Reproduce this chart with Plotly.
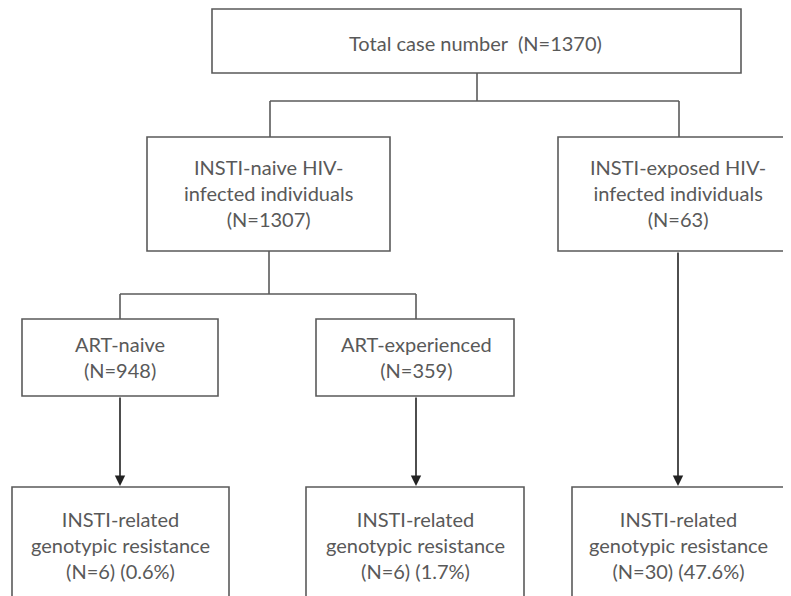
import plotly.graph_objects as go

# ---- data: node labels ----
node_ids = ["total", "naive", "exposed", "artnaive", "artexp", "res1", "res2", "res3"]
node_labels = [
    "Total case number  (N=1370)",
    "INSTI-naive HIV-<br>infected individuals<br>(N=1307)",
    "INSTI-exposed HIV-<br>infected individuals<br>(N=63)",
    "ART-naive<br>(N=948)",
    "ART-experienced<br>(N=359)",
    "INSTI-related<br>genotypic resistance<br>(N=6) (0.6%)",
    "INSTI-related<br>genotypic resistance<br>(N=6) (1.7%)",
    "INSTI-related<br>genotypic resistance<br>(N=30) (47.6%)",
]

# ---- layout geometry (pixels, y downward) ----
boxes = {
    "total":    (212, 9, 741, 73),
    "naive":    (147, 137, 390, 251),
    "exposed":  (558, 137, 800, 251),
    "artnaive": (22, 319, 218, 396),
    "artexp":   (316, 319, 514, 396),
    "res1":     (12, 487, 229, 610),
    "res2":     (306, 487, 524, 610),
    "res3":     (572, 487, 788, 610),
}
text_centers = {
    "total": (475, 43),
    "naive": (268, 193),
    "exposed": (678, 193),
    "artnaive": (120, 357),
    "artexp": (416, 357),
    "res1": (120, 545),
    "res2": (415, 545),
    "res3": (678, 545),
}
connectors = [
    [(477, 73), (477, 101)],
    [(270, 101), (679, 101)],
    [(270, 101), (270, 137)],
    [(679, 101), (679, 137)],
    [(269, 251), (269, 294)],
    [(120, 294), (416, 294)],
    [(120, 294), (120, 319)],
    [(416, 294), (416, 319)],
]
arrows = [
    ((120, 396), (120, 487)),
    ((416, 396), (416, 487)),
    ((678, 251), (678, 487)),
]

line_color = "#5a5a5a"
text_color = "#595959"
OFF = 8  # page body margin

fig = go.Figure()
fig.add_trace(go.Scatter(x=[OFF, 791], y=[OFF, 596], mode="markers",
                         marker=dict(opacity=0), hoverinfo="skip", showlegend=False))

shapes = []
for nid in node_ids:
    x0, y0, x1, y1 = boxes[nid]
    shapes.append(dict(type="rect", xref="x", yref="y", x0=x0, y0=y0, x1=x1, y1=y1,
                       line=dict(color=line_color, width=1.6), fillcolor="white", layer="below"))
for seg in connectors:
    (xa, ya), (xb, yb) = seg
    shapes.append(dict(type="line", xref="x", yref="y", x0=xa, y0=ya, x1=xb, y1=yb,
                       line=dict(color=line_color, width=1.6)))

annotations = []
for nid, lab in zip(node_ids, node_labels):
    cx, cy = text_centers[nid]
    annotations.append(dict(x=cx, y=cy, xref="x", yref="y", text=lab, showarrow=False,
                            font=dict(family="Lato", size=20, color=text_color),
                            align="center", xanchor="center", yanchor="middle"))
for (sx, sy), (ex, ey) in arrows:
    annotations.append(dict(x=ex, y=ey, ax=sx, ay=sy, xref="x", yref="y", axref="x", ayref="y",
                            text="", showarrow=True, arrowhead=2, arrowsize=1.3, arrowwidth=1.6,
                            arrowcolor="#222222", standoff=1))

fig.update_layout(
    width=791 - OFF, height=596 - OFF, margin=dict(l=0, r=0, t=0, b=0),
    paper_bgcolor="white", plot_bgcolor="white",
    xaxis=dict(range=[OFF, 791], visible=False, fixedrange=True),
    yaxis=dict(range=[596, OFF], visible=False, fixedrange=True),
    shapes=shapes, annotations=annotations, showlegend=False,
)
fig.write_html("out.html")
